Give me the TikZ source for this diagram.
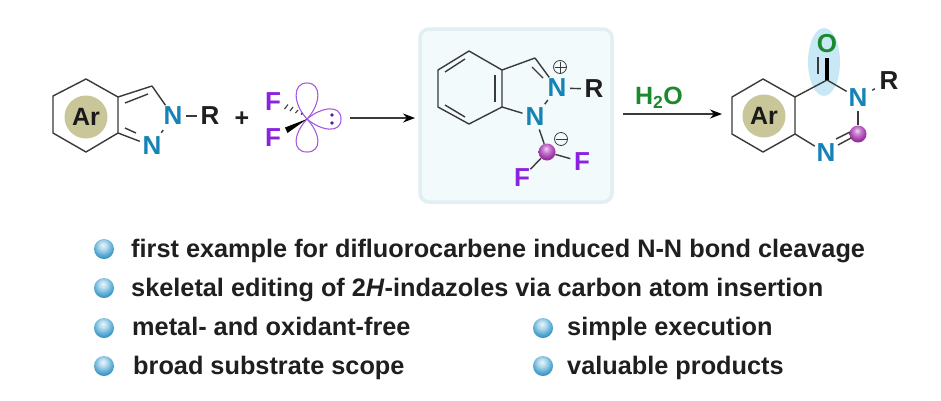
\documentclass[tikz,border=0pt]{standalone}
\usepackage{fontspec}
\setmainfont{Liberation Sans}
\usetikzlibrary{arrows.meta}
\definecolor{bondc}{HTML}{3A3A3A}
\definecolor{nblue}{HTML}{1583B5}
\definecolor{fpurple}{HTML}{8A22E0}
\definecolor{ogreen}{HTML}{1B8A2E}
\definecolor{arfill}{HTML}{C9C79A}
\definecolor{boxfill}{HTML}{F3FAFC}
\definecolor{boxline}{HTML}{E2EFF2}
\definecolor{halo}{HTML}{C9E8F5}
\definecolor{lobe}{HTML}{A45BE0}
\definecolor{bu1}{HTML}{EAF5FA}
\definecolor{bu2}{HTML}{B5DAEC}
\definecolor{bu3}{HTML}{5FAFD6}
\definecolor{bu4}{HTML}{2A86B5}
\definecolor{bu5}{HTML}{1C6E9C}
\definecolor{ca1}{HTML}{F0D8F0}
\definecolor{ca2}{HTML}{CC80D2}
\definecolor{ca3}{HTML}{A03AA8}
\definecolor{ca4}{HTML}{7B1F88}
\pgfdeclareradialshading{bulletball}{\pgfpoint{-3bp}{10bp}}{color(0bp)=(bu1);color(10bp)=(bu2);color(22bp)=(bu3);color(33bp)=(bu4);color(100bp)=(bu5)}
\pgfdeclareradialshading{carbonball}{\pgfpoint{-3bp}{10bp}}{color(0bp)=(ca1);color(10bp)=(ca2);color(24bp)=(ca3);color(38bp)=(ca4);color(100bp)=(ca4)}
\tikzset{
  x=1pt,y=-1pt,
  bond/.style={draw=bondc,line width=1.4pt},
  atom/.style={circle,inner sep=0pt,minimum size=22pt,font=\fontsize{26}{26}\selectfont\bfseries},
  natom/.style={atom,text=nblue},
  fatom/.style={atom,text=fpurple},
  ratom/.style={atom,text=black!88},
  aryl/.style={circle,fill=arfill,minimum size=43pt,inner sep=0pt,font=\fontsize{25}{25}\selectfont\bfseries,text=black!90},
  charge/.style={circle,draw=bondc,line width=.8pt,minimum size=13pt,inner sep=0pt},
  sphere/.style={circle,minimum size=17pt,inner sep=0pt,shading=carbonball},
  bullet/.style={circle,minimum size=20pt,inner sep=0pt,shading=bulletball},
  point/.style={anchor=base west,inner sep=0pt,text=black!88,font=\fontsize{25.3}{25.3}\selectfont\bfseries},
  rxn/.style={draw=bondc,line width=1.2pt,-{Stealth[length=12pt,width=9pt,color=black]}},
  orbital/.style={draw=lobe,line width=1.1pt},
  hash/.style={draw=bondc,line width=1.1pt},
}
\begin{document}
\begin{tikzpicture}
\useasboundingbox (0,0) rectangle (941,400);
\fill[white] (0,0) rectangle (941,400);

% --- substrate
\coordinate (a1) at (53,96); \coordinate (a2) at (86,79); \coordinate (a3) at (118,97);
\coordinate (a4) at (118,133); \coordinate (a5) at (86,152); \coordinate (a6) at (53,133);
\coordinate (a7) at (152,86);
\node[aryl] (arA) at (86,117) {Ar};
\node[natom] (nA) at (173,116) {N};
\node[natom] (nB) at (152,146) {N};
\node[ratom] (rA) at (210,116) {R};
\draw[bond,line join=round] (a3)--(a2)--(a1)--(a6)--(a5)--(a4)--(a3);
\draw[bond] (a3)--(a7);
\draw[bond] (a7)--(nA);
\draw[bond,shorten >=3pt,shorten <=4pt] (nA)--(nB);
\draw[bond] (a4)--(nB);
\draw[bond] (nA)--(rA);
\coordinate (a8) at (125,103); \coordinate (a9) at (148,94);
\coordinate (a10) at (125,128); \coordinate (a11) at (136,133);
\draw[bond] (a8)--(a9);
\draw[bond] (a10)--(a11);

\node[font=\fontsize{25}{25}\selectfont\bfseries,text=black!88,inner sep=0pt] (plus) at (242,119) {+};

% --- difluorocarbene
\coordinate (cc) at (307,119);
\node[fatom] (fA) at (273,102) {F};
\node[fatom] (fB) at (273,138) {F};
\draw[orbital] (cc) .. controls (293,104) and (292,83) .. (307,83) .. controls (322,83) and (321,104) .. (cc);
\draw[orbital] (cc) .. controls (293,134) and (292,152) .. (307,152) .. controls (322,152) and (321,134) .. (cc);
\draw[orbital] (cc) .. controls (321,107) and (341,104) .. (341,119) .. controls (341,134) and (321,131) .. (cc);
\fill[black] (cc) -- (285,127.5) -- (287.5,133) -- cycle;
\draw[hash] (302.5,113) -- (301,114.5);
\draw[hash] (298,110) -- (295.5,113);
\draw[hash] (293,107) -- (290,111);
\draw[hash] (288,104.5) -- (284.5,109);
\fill[fpurple!70!black] (332,115) circle (1.8) (332,123) circle (1.8);

% --- arrow 1
\coordinate (ar1s) at (350,118); \coordinate (ar1e) at (415,118);
\draw[rxn] (ar1s)--(ar1e);

% --- intermediate
\draw[fill=boxfill,draw=boxline,line width=3.5pt,rounded corners=9pt] (420,29) rectangle (612,202);
\coordinate (b1) at (469,51); \coordinate (b2) at (502,70); \coordinate (b3) at (502,107);
\coordinate (b4) at (469,124); \coordinate (b5) at (438,107); \coordinate (b6) at (438,70);
\coordinate (b7) at (535,58);
\node[natom] (nC) at (557,88) {N};
\node[natom] (nD) at (535,117) {N};
\node[ratom] (rB) at (594,89) {R};
\node[sphere] (cB) at (547,152) {};
\node[fatom] (fC) at (582,162) {F};
\node[fatom] (fD) at (522,178) {F};
\node[charge] (pos) at (560,67) {};
\node[charge] (neg) at (561,139) {};
\draw[bond,line width=.9pt] (554.5,67)--(565.5,67) (560,61.5)--(560,72.5);
\draw[bond,line width=.9pt] (555.5,139)--(566.5,139);
\draw[bond,line join=round] (b2)--(b1)--(b6)--(b5)--(b4)--(b3)--(b2);
\draw[bond] (b2)--(b7);
\draw[bond] (b7)--(nC);
\coordinate (b8) at (532,67); \coordinate (b9) at (543,78);
\draw[bond] (b8)--(b9);
\draw[bond,shorten >=3pt,shorten <=2pt] (nC)--(nD);
\draw[bond] (b3)--(nD);
\draw[bond] (nC)--(rB);
\draw[bond] (nD)--(cB);
\draw[bond] (cB)--(fC);
\draw[bond] (cB)--(fD);
\coordinate (b10) at (445,72); \coordinate (b11) at (465,59);
\coordinate (b12) at (495,75); \coordinate (b13) at (495,102);
\coordinate (b14) at (445,105); \coordinate (b15) at (465,117);
\draw[bond] (b10)--(b11);
\draw[bond] (b12)--(b13);
\draw[bond] (b14)--(b15);

% --- arrow 2
\coordinate (ar2s) at (623,114); \coordinate (ar2e) at (722,114);
\draw[rxn] (ar2s)--(ar2e);
\node[text=ogreen,inner sep=0pt,font=\fontsize{25}{25}\selectfont\bfseries] (water) at (659,98) {H\textsubscript{2}O};

% --- product
\fill[halo] (824,62) ellipse [x radius=16,y radius=34];
\coordinate (p1) at (732,97); \coordinate (p2) at (763,79); \coordinate (p3) at (795,97);
\coordinate (p4) at (795,134); \coordinate (p5) at (763,152); \coordinate (p6) at (732,134);
\coordinate (p7) at (827,80);
\node[aryl] (arB) at (764,116) {Ar};
\node[atom,text=ogreen] (oA) at (827,44) {O};
\node[natom] (nE) at (858,98) {N};
\node[natom] (nF) at (826,153) {N};
\node[ratom] (rC) at (889,81) {R};
\node[sphere] (cC) at (858,134) {};
\draw[bond,line join=round] (p3)--(p2)--(p1)--(p6)--(p5)--(p4)--(p3);
\draw[bond] (p3)--(p7);
\draw[bond] (p7)--(nE);
\draw[bond] (nE)--(cC);
\draw[bond,shorten <=3pt,shorten >=3pt] (nE)--(rC);
\draw[bond] (p4)--(nF);
\coordinate (p8) at (838,145); \coordinate (p9) at (851,138);
\coordinate (p10) at (836,139); \coordinate (p11) at (850,132);
\draw[bond] (p8)--(p9);
\draw[bond] (p10)--(p11);
\draw[draw=black,line width=4pt] (p7)--(oA);
\coordinate (p12) at (818,57); \coordinate (p13) at (818,74);
\draw[bond] (p12)--(p13);

% --- bullet points
\node[bullet] (u1) at (104,249) {};
\node[bullet] (u2) at (104,288) {};
\node[bullet] (u3) at (104,328) {};
\node[bullet] (u4) at (104,366) {};
\node[bullet] (u5) at (543,328) {};
\node[bullet] (u6) at (543,366) {};
\node[point] (t1) at (131,257) {first example for difluorocarbene induced N-N bond cleavage};
\node[point] (t2) at (131,296) {skeletal editing of 2\textit{H}-indazoles via carbon atom insertion};
\node[point] (t3) at (132,335) {metal- and oxidant-free};
\node[point] (t4) at (133,374) {broad substrate scope};
\node[point] (t5) at (567,335) {simple execution};
\node[point] (t6) at (567,374) {valuable products};
\end{tikzpicture}
\end{document}
